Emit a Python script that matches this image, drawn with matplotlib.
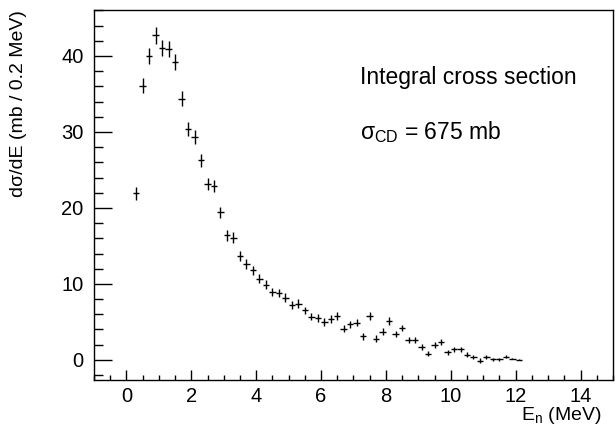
import numpy as np
import matplotlib
matplotlib.use("Agg")
import matplotlib.pyplot as plt
from matplotlib.ticker import MultipleLocator

plt.rcParams['font.family'] = ['Liberation Sans', 'DejaVu Sans']
plt.rcParams['mathtext.fontset'] = 'custom'
plt.rcParams['mathtext.rm'] = 'Liberation Sans'
plt.rcParams['mathtext.it'] = 'Liberation Sans'

# neutron energy bin centres (MeV), 0.2 MeV bins
energy = [0.3, 0.5, 0.7, 0.9, 1.1, 1.3, 1.5, 1.7, 1.9, 2.1,
          2.3, 2.5, 2.7, 2.9, 3.1, 3.3, 3.5, 3.7, 3.9, 4.1,
          4.3, 4.5, 4.7, 4.9, 5.1, 5.3, 5.5, 5.7, 5.9, 6.1,
          6.3, 6.5, 6.7, 6.9, 7.1, 7.3, 7.5, 7.7, 7.9, 8.1,
          8.3, 8.5, 8.7, 8.9, 9.1, 9.3, 9.5, 9.7, 9.9, 10.1,
          10.3, 10.5, 10.7, 10.9, 11.1, 11.3, 11.5, 11.7, 11.9, 12.1]
dsigma = [21.9, 36.1, 40.0, 42.7, 41.0, 40.9, 39.2, 34.4, 30.4, 29.3,
          26.3, 23.1, 22.9, 19.4, 16.4, 16.1, 13.7, 12.6, 11.8, 10.7,
          9.9, 8.9, 8.8, 8.2, 7.2, 7.4, 6.5, 5.7, 5.5, 5.0,
          5.4, 5.8, 4.1, 4.7, 4.9, 3.1, 5.8, 2.8, 3.7, 5.1,
          3.4, 4.2, 2.6, 2.6, 1.7, 0.8, 2.0, 2.3, 1.0, 1.4,
          1.4, 0.7, 0.35, -0.1, 0.35, 0.05, 0.05, 0.4, 0.15, 0.0]
err = [0.8, 1.0, 1.05, 1.1, 1.05, 1.05, 1.0, 0.95, 0.9, 0.9,
       0.85, 0.8, 0.8, 0.75, 0.7, 0.7, 0.65, 0.65, 0.6, 0.6,
       0.6, 0.55, 0.55, 0.55, 0.55, 0.55, 0.5, 0.5, 0.5, 0.5,
       0.5, 0.5, 0.45, 0.45, 0.45, 0.45, 0.5, 0.45, 0.45, 0.5,
       0.45, 0.45, 0.4, 0.4, 0.4, 0.35, 0.4, 0.4, 0.35, 0.35,
       0.35, 0.3, 0.3, 0.3, 0.3, 0.25, 0.2, 0.2, 0.1, 0.05]
binhalf = 0.1

fig = plt.figure(figsize=(6.15, 4.34), dpi=100)
ax = fig.add_axes([0.1528, 0.1244, 0.8439, 0.8526])

ax.errorbar(energy, dsigma, yerr=err, xerr=binhalf, fmt='none',
            ecolor='black', elinewidth=1.0, capsize=0)

ax.set_xlim(-1, 15)
ax.set_ylim(-2.65, 46.05)
ax.xaxis.set_major_locator(MultipleLocator(2))
ax.xaxis.set_minor_locator(MultipleLocator(0.5))
ax.yaxis.set_major_locator(MultipleLocator(10))
ax.yaxis.set_minor_locator(MultipleLocator(2))
ax.tick_params(axis='both', which='both', direction='in', labelsize=14.5,
               top=False, right=False, width=1.0)
ax.tick_params(axis='y', which='major', length=13, pad=7.5)
ax.tick_params(axis='y', which='minor', length=6.5)
ax.tick_params(axis='x', which='major', length=7, pad=5)
ax.tick_params(axis='x', which='minor', length=3.6)
for s in ax.spines.values():
    s.set_linewidth(1.0)

ax.set_xlabel(r'E$_{\mathrm{n}}$ (MeV)', fontsize=14, loc='right')
ax.set_ylabel('dσ/dE (mb / 0.2 MeV)', fontsize=14, loc='top')
ax.xaxis.set_label_coords(0.979, -0.068)
ax.yaxis.set_label_coords(-0.13, 1.0)

ax.text(7.2, 37.1, 'Integral cross section', fontsize=16.5, va='center', ha='left')
ax.text(7.2, 30.0, r'$\sigma_{\mathrm{CD}}$ = 675 mb', fontsize=16.5, va='center', ha='left')

fig.savefig('out.png', dpi=100)
